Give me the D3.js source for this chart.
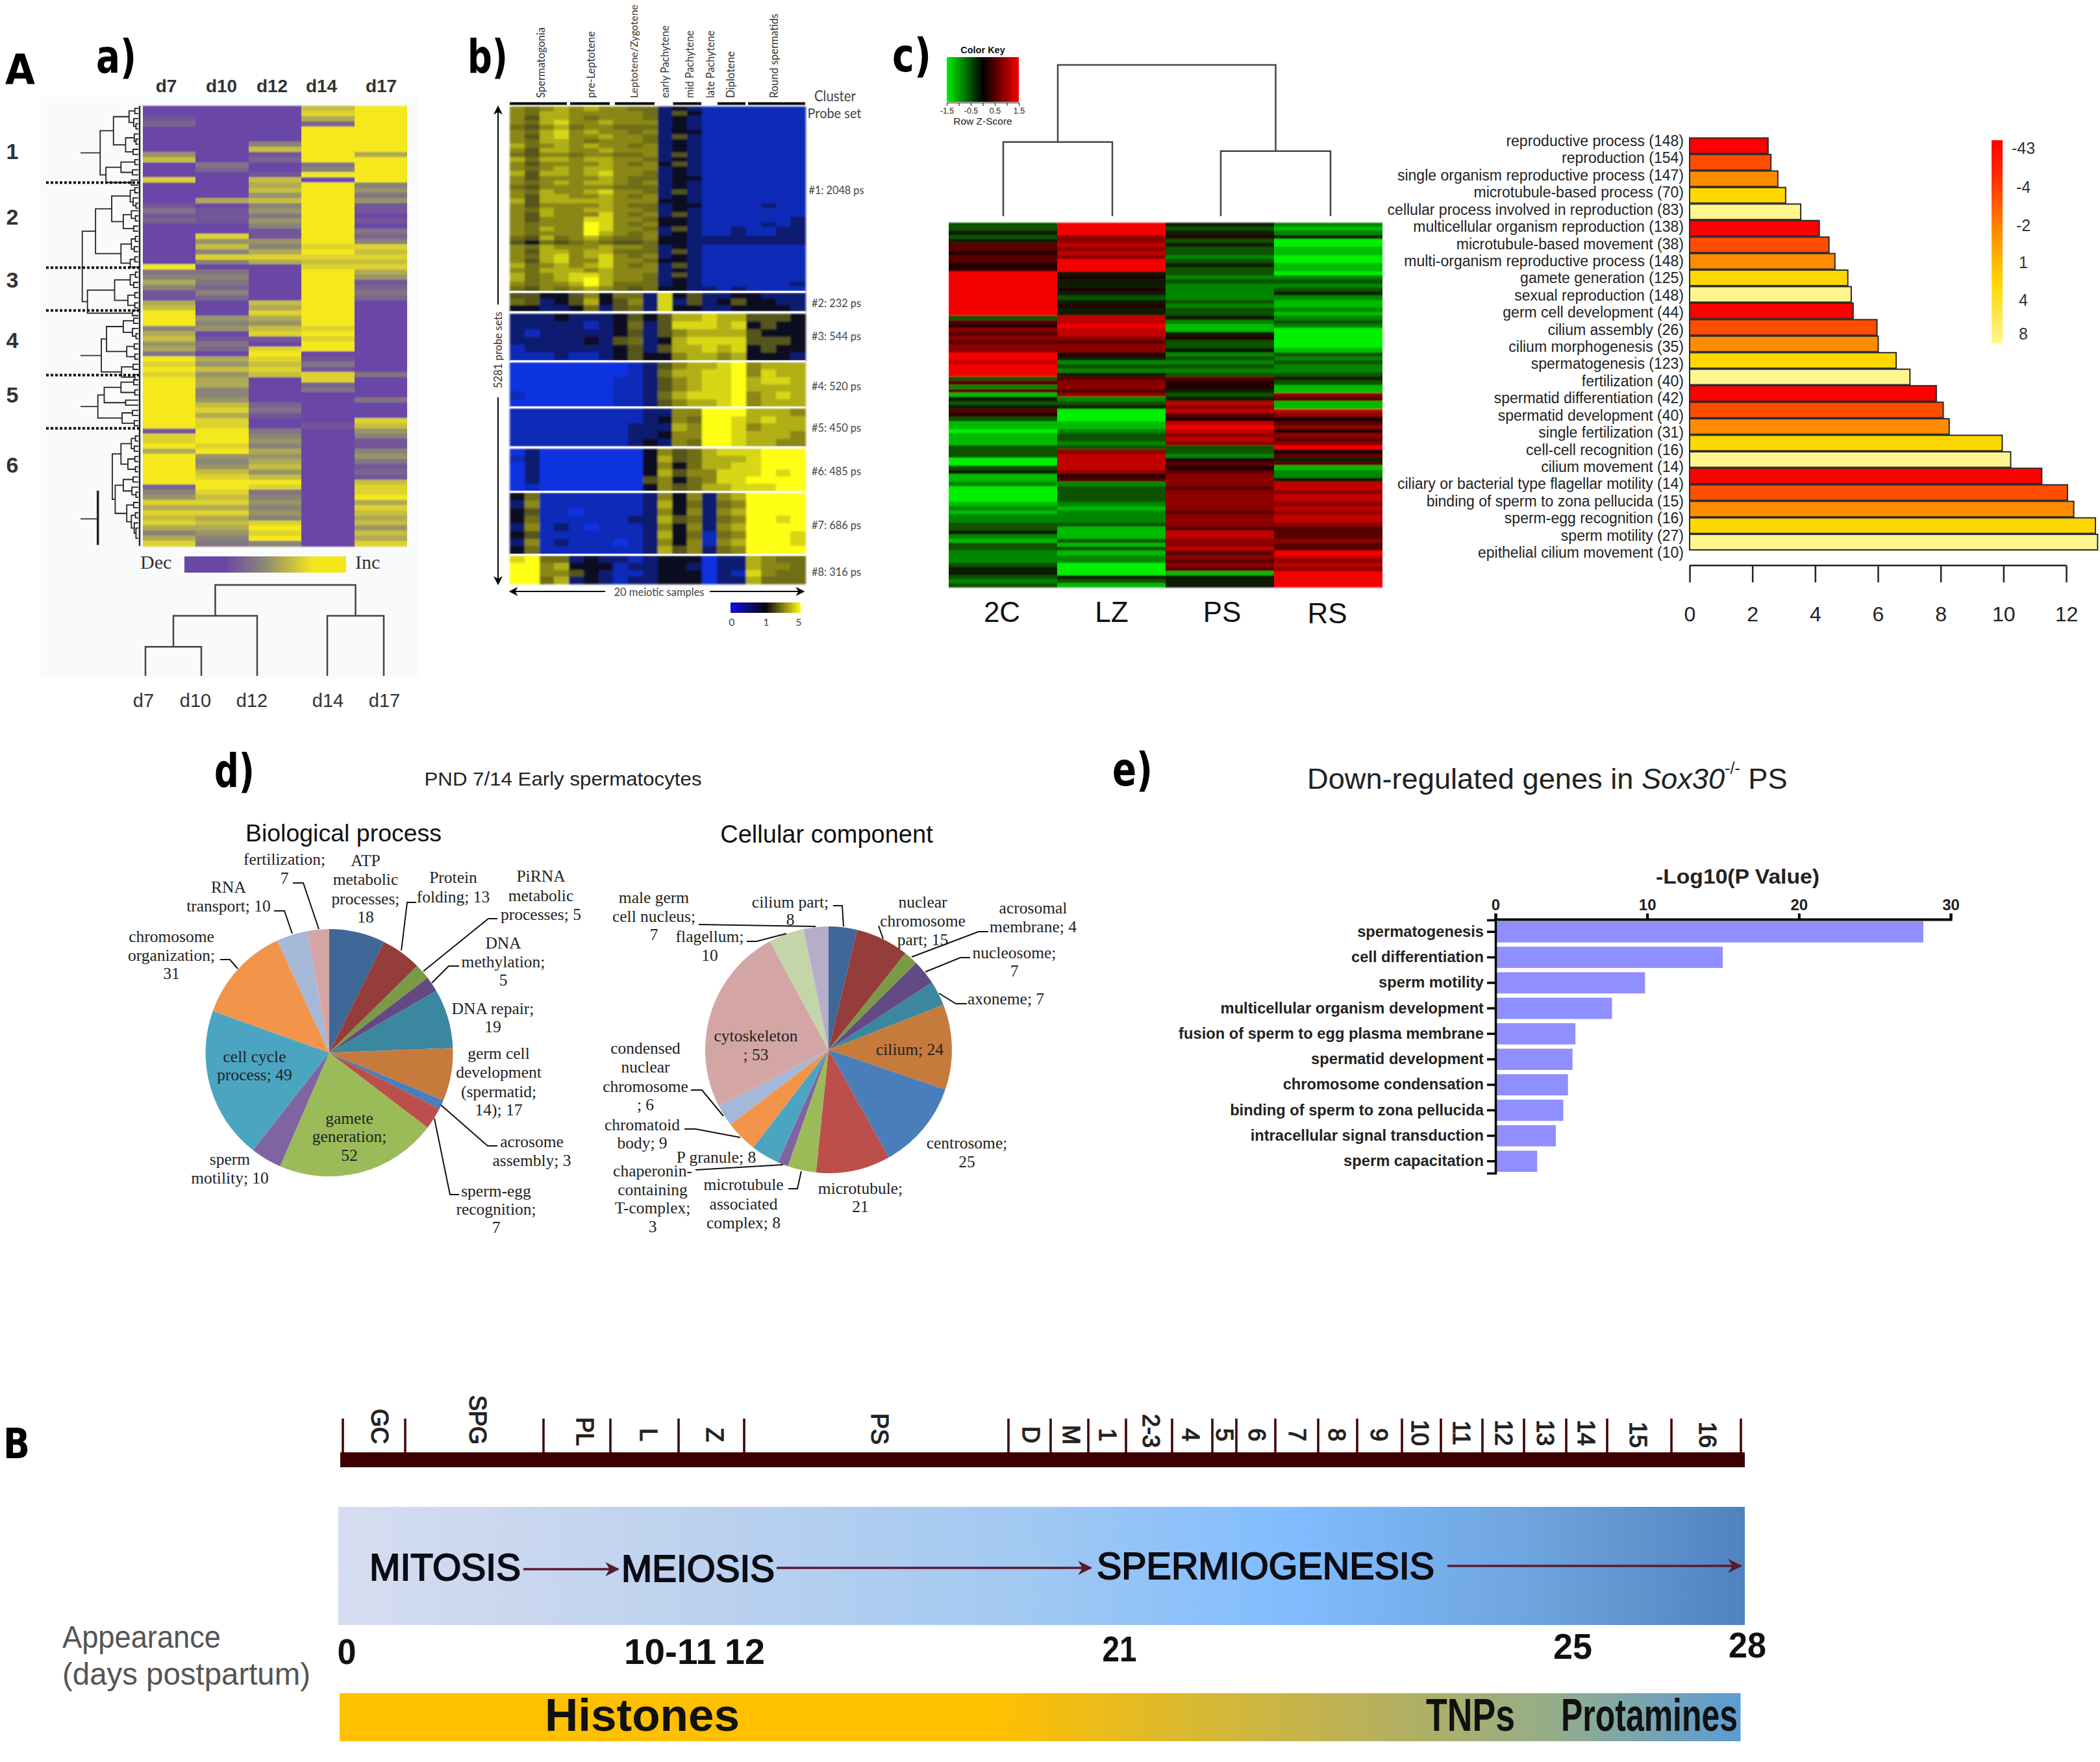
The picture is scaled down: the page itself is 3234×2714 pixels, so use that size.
<!DOCTYPE html>
<html><head><meta charset="utf-8">
<script src="https://cdn.jsdelivr.net/npm/d3@7"></script>
<style>html,body{margin:0;background:#fff}svg{display:block}text{white-space:pre}</style>
</head><body><div id="c"></div>
<script>
// ---------- DATA ----------
// Panel a: five time points, 86 rows, 0 = decreased ... 9 = increased
const aDays=["d7","d10","d12","d14","d17"];
const aD7=[0,0,1,2,0,0,0,0,0,5,7,0,0,0,8,0,0,0,0,1,3,1,2,0,0,0,0,0,0,0,0,9,3,4,6,4,1,1,6,7,9,9,9,4,6,7,5,6,3,9,8,9,8,9,9,9,9,9,9,9,9,9,9,1,8,8,9,6,9,9,9,9,9,9,2,4,5,8,6,8,7,8,6,4,6,8];
const aD10=[0,0,0,0,0,0,0,0,0,0,0,3,2,0,0,0,0,0,6,0,1,1,1,0,0,8,5,7,4,8,4,0,3,4,3,2,4,2,0,0,0,5,4,5,0,1,3,2,0,6,5,7,5,6,6,4,4,5,7,8,6,8,8,9,9,9,8,9,5,4,5,7,8,9,9,8,7,8,6,8,6,7,6,5,4,3];
const aD12=[0,0,0,0,0,0,0,4,7,1,2,0,0,1,7,6,7,5,7,4,5,3,5,4,1,1,5,4,6,8,6,0,0,0,0,0,0,0,7,6,8,6,5,7,8,1,0,8,9,8,7,8,7,0,0,0,0,0,2,3,1,0,0,3,4,5,4,6,5,6,7,5,7,9,8,3,4,5,4,5,4,8,9,8,9,4];
const aD14=[7,8,6,2,9,9,9,9,9,9,9,3,4,9,0,9,9,9,9,9,9,9,9,9,9,9,9,8,9,8,7,8,9,9,9,9,9,9,9,9,9,9,9,8,9,8,9,9,0,1,3,1,8,8,2,3,0,0,0,0,0,0,1,0,0,0,0,0,0,0,0,0,0,0,0,0,0,0,0,0,0,0,0,0,0,0];
const aD17=[9,9,9,9,9,9,9,9,9,6,9,9,9,9,9,4,5,3,5,1,1,0,1,0,3,2,4,8,7,8,7,8,6,5,1,2,3,2,0,0,0,0,0,0,0,0,0,0,0,0,0,0,3,0,0,0,0,3,0,0,0,8,7,5,4,1,1,4,5,3,1,2,1,7,8,8,9,6,8,7,6,7,5,7,6,8];
const aCols=[aD7,aD10,aD12,aD14,aD17];
const aClusterNames=["1","2","3","4","5","6"];
const aClusterBreaks=[15,31.6,40,52.6,63];
// row dendrogram: [distance, child, child]; a leaf is a row number
const aC1=[66,[43,[16,[6,0,1],[8,2,[4,3,4]]],[22,[7,5,[4,6,7]],[9,8,9]]],[56,[30,[6,10,11],[10,12,13]],[12,14,15]]];
const aC2=[74,[46,[14,[6,15.5,16.5],[9,17.5,[4,18.5,19.5]]],[26,[12,20,[5,21,22]],[8,23,24]]],[30,[12,[5,25,26],[7,27,28]],[14,[6,29,30],31]]];
const aC3=[88,[41,[14,[5,32,33],[8,34,35]],[18,[6,36,37],[6,38,39]]],[10,39.5,40.5]];
const aC4=[64,[55,[26,[8,41,42],[10,43,[4,44,45]]],[20,[7,46,47],[6,48,49]]],[29,[9,50,51],[6,52,53]]];
const aC5=[70,[59,[30,[8,53,54],[6,55,56]],[22,57,58]],[28,[10,59,60],[7,61,62]]];
const aC6=[45,[30,[12,[5,64,65],[7,66,67]],[18,[6,68,69],[5,70,71]]],[40,[26,[9,72,73],[11,74,[4,75,76]]],[20,[8,77,78],[12,[5,79,80],[7,81,[4,82,84]]]]]];
const aC23=[97,aC2,aC3];
const aColTree=[1,[.66,[.32,"d7","d10"],"d12"],[.66,"d14","d17"]];

// Panel b: 20 samples, digits 0 = blue ... 3 = black ... 9 = yellow
const bStages=["Spermatogonia","pre-Leptotene","Leptotene/Zygotene","early Pachytene","mid Pachytene","late Pachytene","Diplotene","Round spermatids"];
const bClusterLabels=["#1: 2048 ps","#2: 232 ps","#3: 544 ps","#4: 520 ps","#5: 450 ps","#6: 485 ps","#7: 686 ps","#8: 316 ps"];
const bC1=["6567 676 655 2 32 1 11 1111","6577 666 665 2 43 1 11 1111","6477 656 665 2 32 1 11 1111","6578 667 666 2 32 1 11 1111","5467 566 555 2 32 1 11 1111","6578 676 656 2 33 1 11 1111","6478 667 665 2 42 1 11 1111","6577 656 665 2 32 1 11 1111","7567 676 656 2 32 1 11 1111","6477 667 666 2 32 1 11 1111","5466 566 556 2 42 1 11 1111","7577 677 665 2 32 1 11 1111","6466 667 656 3 42 1 11 1111","6567 677 666 2 32 1 11 1111","7477 678 665 2 32 1 11 1111","6466 667 655 2 33 1 11 1111","6567 677 656 2 32 1 11 1111","5466 666 555 2 32 1 11 1111","6576 678 665 2 42 1 11 1111","6477 667 656 2 32 1 11 1111","7477 777 666 3 32 1 11 1111","6466 667 655 2 33 1 11 1211","6576 677 665 2 32 1 11 1111","6476 668 656 2 42 1 11 1111","6466 688 665 3 32 1 11 1112","6566 698 656 3 32 1 11 1212","6576 698 665 2 42 1 12 1122","6566 697 656 2 32 1 12 1122","5475 676 556 3 32 2 22 2222","4354 565 445 3 32 2 22 2222","6576 667 665 2 32 1 11 1111","6477 677 555 2 42 1 11 1111","6578 678 656 2 32 1 11 1111","6478 668 665 3 32 1 11 1111","7567 678 656 2 42 1 11 1111","6577 767 666 2 32 1 11 1111","7567 887 665 2 42 1 11 1111","7567 897 665 2 32 1 11 1111","6566 797 555 2 32 1 11 1112","5465 676 545 3 32 2 12 1111"];
const bC2=["4433 463 552 8 34 2 23 3222","5423 473 462 8 24 2 34 3322","3322 352 452 8 33 2 23 3332"];
const bC3=["2223 222 343 4 77 8 77 4443","2222 212 352 4 88 8 78 3433","2122 222 342 4 67 7 77 4333","2222 232 452 3 78 8 88 4443","1222 222 342 4 77 8 78 3433","1112 112 343 3 67 7 67 3332"];
const bC4=["0000 000 012 4 67 7 89 6777","0000 000 012 5 77 8 89 6877","0000 000 112 4 67 8 89 7887","0000 000 112 4 67 8 89 7777","1000 000 112 5 78 8 89 6787","0000 000 112 4 67 7 89 6777"];
const bC5=["1111 111 112 2 66 9 99 7776","1111 111 112 3 65 9 98 7877","1111 111 122 2 76 9 98 6777","1111 111 122 3 66 9 98 7776","1111 111 123 2 65 9 98 7766"];
const bC6=["0200 000 003 6 45 7 88 8999","1200 000 003 7 45 7 77 8999","0200 000 003 6 35 7 78 8999","0200 000 003 7 46 6 88 8989","0200 000 004 6 35 6 88 9999","0100 000 003 6 45 7 78 8899"];
const bC7=["3511 111 112 6 36 2 67 9999","2611 111 112 7 35 2 56 9999","3411 011 112 6 36 2 67 9999","3511 111 122 7 45 2 56 9989","2612 101 112 6 36 2 67 9999","3411 111 112 7 35 1 56 9998","2612 111 012 6 36 1 67 9998","3511 111 112 7 46 2 56 9999"];
const bC8=["8955 232 212 3 33 0 22 7655","9967 333 122 3 32 0 22 7665","9966 432 112 3 33 0 21 8655","9957 232 122 3 33 0 22 7555"];
const bClusters=[bC1,bC2,bC3,bC4,bC5,bC6,bC7,bC8];

// Panel c heat map: 0 = green ... 4.5 = black ... 9 = red
const cSamples=["2C","LZ","PS","RS"];
const c2C=[3,3,4,3,4,6,6,5,6,6,5,5,9,9,9,9,9,9,9,9,9,9,9,3,6,5,7,6,7,6,7,7,9,9,8,9,9,9,3,6,2,6,1,4,3,4,6,5,3,1,1,0,1,1,1,3,3,3,0,0,3,4,1,1,2,0,0,0,0,1,2,1,2,2,3,3,4,2,1,3,3,2,2,2,3,4,4,3,2,3];
const cLZ=[9,9,9,7,7,8,7,8,7,9,9,9,4,5,4,4,5,4,3,4,5,4,4,8,8,9,8,8,7,6,7,7,5,4,2,3,2,4,6,7,7,6,7,2,3,4,0,0,0,1,1,2,3,3,2,3,7,8,8,8,8,7,5,6,2,3,3,3,3,2,1,2,2,2,3,1,1,1,3,1,3,1,2,2,0,0,0,4,3,1];
const cPS=[4,3,4,5,3,4,3,3,2,3,4,3,3,2,3,2,2,2,2,3,2,3,3,4,2,1,1,4,5,3,3,4,2,3,2,3,2,3,6,5,5,4,3,4,8,7,8,6,5,8,9,8,7,8,7,3,3,2,5,6,5,6,7,7,7,6,7,7,7,7,7,6,7,7,7,6,8,8,7,7,8,6,7,6,7,6,1,4,4,4];
const cRS=[2,1,2,4,0,0,1,1,0,0,1,1,0,2,3,2,3,4,2,1,1,2,1,2,3,2,0,0,0,0,0,1,3,2,3,2,2,3,4,3,1,1,7,6,1,1,8,7,5,6,7,5,7,6,7,9,5,6,4,6,1,2,2,4,8,8,7,8,8,7,8,7,8,8,7,6,6,6,7,6,6,9,8,7,8,7,9,9,9,9];
const cCols=[c2C,cLZ,cPS,cRS];
const cColTree=[1,[.49,"2C","LZ"],[.43,"PS","RS"]];

// Panel c bars
const goTerms=["reproductive process (148)","reproduction (154)","single organism reproductive process (147)","microtubule-based process (70)","cellular process involved in reproduction (83)","multicellular organism reproduction (138)","microtubule-based movement (38)","multi-organism reproductive process (148)","gamete generation (125)","sexual reproduction (148)","germ cell development (44)","cilium assembly (26)","cilium morphogenesis (35)","spermatogenesis (123)","fertilization (40)","spermatid differentiation (42)","spermatid development (40)","single fertilization (31)","cell-cell recognition (16)","cilium movement (14)","ciliary or bacterial type flagellar motility (14)","binding of sperm to zona pellucida (15)","sperm-egg recognition (16)","sperm motility (27)","epithelial cilium movement (10)"];
const goValues=[2.5,2.59,2.81,3.06,3.54,4.13,4.44,4.63,5.04,5.15,5.21,5.97,6.01,6.58,7.02,7.86,8.08,8.27,9.96,10.23,11.22,12.04,12.24,12.93,13.0];
const goColorIndex=[0,1,2,3,4,0,1,2,3,4,0,1,2,3,4,0,1,2,3,4,0,1,2,3,4];
const goPalette=["#ff0000","#ff4d00","#ff8c00","#ffd700","#fff68f"];
const goLegend=["-43","-4","-2","1","4","8"];

// Panel d pies
const bpNames=["ATP metabolic processes","Protein folding","PiRNA metabolic processes","DNA methylation","DNA repair","germ cell development","acrosome assembly","sperm-egg recognition","gamete generation","sperm motility","cell cycle process","chromosome organization","RNA transport","fertilization"];
const bpValues=[18,13,5,5,19,17,3,7,52,10,49,31,10,7];
const ccNames=["cilium part","nuclear chromosome part","acrosomal membrane","nucleosome","axoneme","cilium","centrosome","microtubule","microtubule associated complex","chaperonin-containing T-complex","P granule","chromatoid body","condensed nuclear chromosome","cytoskeleton","flagellum","male germ cell nucleus"];
const ccValues=[8,15,4,7,7,24,25,21,8,3,8,9,6,53,10,7];
const pieColors=["#3f6797","#953d3a","#7a9a45","#634a84","#3b87a0","#c67a3b","#4a7eba","#bc4f4c","#9bbb59","#8064a2","#4ba5c1","#f2954a","#a5b8d8","#d3a6a5","#c3d5a9","#b5aecb"];

// Panel e
const eTerms=["spermatogenesis","cell differentiation","sperm motility","multicellular organism development","fusion of sperm to egg plasma membrane","spermatid development","chromosome condensation","binding of sperm to zona pellucida","intracellular signal transduction","sperm capacitation"];
const eValues=[28.2,14.98,9.86,7.68,5.27,5.08,4.78,4.47,3.98,2.75];

// Panel B
const stageNames=["GC","SPG","PL","L","Z","PS","D","M","1","2-3","4","5","6","7","8","9","10","11","12","13","14","15","16"];

// ---------- LAYOUT ----------
const W=3234,H=2714,SANS="'Liberation Sans',Arial,sans-serif",SERIF="'Liberation Serif','Times New Roman',serif",LATO="Lato,'Open Sans',sans-serif",HEAVY="'DejaVu Sans',sans-serif";
const svg=d3.select("#c").append("svg").attr("width",W).attr("height",H).attr("viewBox",`0 0 ${W} ${H}`);
svg.append("rect").attr("width",W).attr("height",H).attr("fill","#fff");
const defs=svg.append("defs");
function soft(id,sx,sy){defs.append("filter").attr("id",id).attr("x","-2%").attr("y","-2%").attr("width","104%").attr("height","104%")
  .append("feGaussianBlur").attr("stdDeviation",`${sx} ${sy}`);return `url(#${id})`;}
const softA=soft("sa",.6,1.3),softB=soft("sb",1.6,1.4),softC=soft("sc",.5,1.1);
function grad(id,stops,vertical){const g=defs.append("linearGradient").attr("id",id).attr("x1",0).attr("y1",0).attr("x2",vertical?0:1).attr("y2",vertical?1:0);
  stops.forEach(s=>g.append("stop").attr("offset",s[0]).attr("stop-color",s[1]));return `url(#${id})`;}
function t(g,x,y,s,o={}){const e=g.append("text").attr("x",x).attr("y",y).text(s).attr("dominant-baseline",o.base||"central")
  .attr("text-anchor",o.anchor||"middle").attr("font-family",o.font||SANS).attr("font-size",o.size||24).attr("fill",o.fill||"#111");
  if(o.weight)e.attr("font-weight",o.weight);if(o.rot!=null)e.attr("transform",`rotate(${o.rot} ${x} ${y})`);
  if(o.len)e.attr("textLength",o.len).attr("lengthAdjust","spacingAndGlyphs");
  if(o.stroke)e.attr("stroke",o.fill||"#111").attr("stroke-width",o.stroke);return e;}
function poly(g,pts,w,c){g.append("path").attr("d",d3.line()(pts)).attr("fill","none").attr("stroke",c||"#111").attr("stroke-width",w);}

// Panel letters
[["A",8,130,64,46],["B",5,2246,64,41]].forEach(d=>t(svg,d[1],d[2],d[0],{anchor:"start",base:"auto",size:d[3],weight:"bold",font:HEAVY,len:d[4],fill:"#000"}));
[["a)",148,112,62],["b)",720,112,62],["c)",1374,110,60],["d)",330,1212,62],["e)",1713,1210,62]].forEach(d=>t(svg,d[1],d[2],d[0],{anchor:"start",base:"auto",size:72,weight:"bold",font:HEAVY,len:d[3],fill:"#000"}));

// ---------- Panel a ----------
const ga=svg.append("g");
ga.append("rect").attr("x",62).attr("y",148).attr("width",583).attr("height",897).attr("fill","#f9fafa");
const ax=d3.scaleBand().domain(aDays).range([220,627]);
const ay=d3.scaleLinear().domain([0,86]).range([163,841]);
const acol=d3.scaleLinear().domain([0,4.5,9]).range(["#6b47a6","#8d8a72","#f5e81a"]);
ga.append("g").attr("filter",softA).selectAll("g").data(aCols).join("g").each(function(col,i){
  d3.select(this).selectAll("rect").data(col).join("rect").attr("shape-rendering","crispEdges").attr("x",ax(aDays[i])).attr("width",ax.bandwidth())
   .attr("y",(d,r)=>ay(r)).attr("height",ay(1)-ay(0)+.5).attr("fill",d=>acol(d));});
aDays.forEach((d,i)=>t(ga,[256,341,419,495,587][i],132,d,{size:28,weight:"bold",fill:"#333"}));
aClusterNames.forEach((d,i)=>t(ga,19,[233,334,431,524,608,716][i],d,{size:34,weight:"bold",fill:"#333"}));
const ad=d3.scaleLinear().domain([0,100]).range([213,124]);
function rowDendro(g,n,w){ // returns row position
  if(!Array.isArray(n))return {y:ay(n+.5),x:ad(0)};
  const a=rowDendro(g,n[1],w),b=rowDendro(g,n[2],w),x=ad(n[0]);
  poly(g,[[a.x,a.y],[x,a.y],[x,b.y],[b.x,b.y]],w,"#222");
  return {y:(a.y+b.y)/2,x};
}
const gd=ga.append("g");
[aC1,aC23,aC4,aC5,aC6].forEach(tr=>{const p=rowDendro(gd,tr,1.8);
  if(tr===aC1||tr===aC4||tr===aC5)poly(gd,[[ad(100),p.y],[p.x,p.y]],1.8,"#333");});
poly(gd,[[ad(100),ay(80.7)],[ad(70),ay(80.7)]],1.8,"#333");
poly(gd,[[ad(70),ay(75.2)],[ad(70),ay(85.8)]],3.5,"#222");
poly(gd,[[215,163],[215,841]],2.5,"#222");
aClusterBreaks.forEach(b=>gd.append("line").attr("x1",71).attr("x2",214).attr("y1",ay(b)).attr("y2",ay(b)).attr("stroke","#111").attr("stroke-width",4).attr("stroke-dasharray","4 3"));
const aBar=grad("ga",[[0,"#6b47a6"],[.25,"#6b47a6"],[.5,"#8d8a72"],[.8,"#f5e81a"],[1,"#f5e81a"]]);
ga.append("rect").attr("x",284).attr("y",857).attr("width",249).attr("height",25).attr("fill",aBar);
t(ga,216,865,"Dec",{anchor:"start",font:SERIF,size:30,fill:"#333"});
t(ga,547,865,"Inc",{anchor:"start",font:SERIF,size:30,fill:"#333"});
function colDendro(g,n,xf,yf,w,c){if(!Array.isArray(n))return {x:xf(n),y:yf(0)};
  const a=colDendro(g,n[1],xf,yf,w,c),b=colDendro(g,n[2],xf,yf,w,c),y=yf(n[0]);
  poly(g,[[a.x,a.y],[a.x,y],[b.x,y],[b.x,b.y]],w,c);return {x:(a.x+b.x)/2,y};}
const aLeaf=d3.scaleOrdinal().domain(aDays).range([224,310,396,504,591]);
colDendro(ga,aColTree,aLeaf,d3.scaleLinear().domain([0,1]).range([1041,901]),2.5,"#444");
aDays.forEach((d,i)=>t(ga,[221,301,388,505,592][i],1079,d,{size:29,fill:"#333"}));

// ---------- Panel b ----------
const gb=svg.append("g");
const bx=d3.scaleBand().domain(d3.range(20)).range([785,1240]);
const bcol=d3.scaleLinear().domain([0,1,2,3,4,6,9]).range(["#1030e0","#102ab8","#0c1a70","#0c1022","#55551a","#8a8715","#ffff14"]);
const bExt=[[164,448],[451,479],[482.5,555],[558,626],[629,687.5],[690.6,756],[759,853],[856,899]];
const bHeat=gb.append("g").attr("filter",softB);
const bLabelW=[85,76,76,76,76,76,76,76];
bClusters.forEach((rows,ci)=>{
  const y=d3.scaleBand().domain(d3.range(rows.length)).range(bExt[ci]);
  rows.forEach((r,ri)=>{const vals=r.replace(/ /g,"").split("").map(Number);
    bHeat.append("g").selectAll("rect").data(vals).join("rect").attr("shape-rendering","crispEdges").attr("x",(d,i)=>bx(i)).attr("width",bx.bandwidth()+.5)
     .attr("y",y(ri)).attr("height",y.bandwidth()+.5).attr("fill",d=>bcol(d));});
  t(gb,ci==0?1245.5:1250,[292.5,466,517,594,658,725,808,880][ci],bClusterLabels[ci],{anchor:"start",font:LATO,size:17,fill:"#444",len:bLabelW[ci]});
});
// white separators between the clusters
bExt.slice(1).forEach(e=>gb.append("rect").attr("x",785).attr("width",455).attr("y",e[0]-3).attr("height",3).attr("fill","#fff"));
const bStageX=[832,909,976,1023,1061,1093,1124,1192],bStageLen=[109,103,144,112,104,104,72,130],bStageSize=[18,18,15.5,18,18,18,18,16.5];
bStages.forEach((s,i)=>t(gb,bStageX[i],151,s,{anchor:"start",font:LATO,size:bStageSize[i],rot:-90,fill:"#333",len:bStageLen[i]}));
[[785,873],[878,939],[947,1008],[1036.5,1080],[1105,1148],[1152,1240]].forEach(s=>poly(gb,[[s[0],159.5],[s[1],159.5]],4,"#000"));
t(gb,1286,147,"Cluster",{font:LATO,size:23,fill:"#444",len:64});
t(gb,1285,173,"Probe set",{font:LATO,size:22,fill:"#444",len:83});
function arrowHead(id,c,s){defs.append("marker").attr("id",id).attr("viewBox","0 0 10 10").attr("refX",9).attr("refY",5).attr("markerWidth",s).attr("markerHeight",s).attr("orient","auto-start-reverse").attr("markerUnits","userSpaceOnUse")
  .append("path").attr("d","M0,0L10,5L0,10L3,5Z").attr("fill",c);return `url(#${id})`;}
const mk=arrowHead("ak","#000",14);
function arrow(g,x1,y1,x2,y2,w,c,m){return g.append("line").attr("x1",x1).attr("y1",y1).attr("x2",x2).attr("y2",y2).attr("stroke",c).attr("stroke-width",w).attr("marker-end",m);}
arrow(gb,767,469,767,164,2,"#000",mk);arrow(gb,767,612,767,900,2,"#000",mk);
t(gb,766,539,"5281 probe sets",{font:LATO,size:18,rot:-90,fill:"#333",len:118});
arrow(gb,932,911,785,911,2,"#000",mk);arrow(gb,1093,911,1238,911,2,"#000",mk);
t(gb,1015,911,"20 meiotic samples",{font:LATO,size:18,fill:"#444",len:139});
gb.append("rect").attr("x",1125).attr("y",928).attr("width",108).attr("height",16).attr("fill",grad("gb",[[0,"#1010e0"],[.5,"#050510"],[1,"#ffff14"]]));
[["0",1127],["1",1180],["5",1230]].forEach(d=>t(gb,d[1],957,d[0],{font:LATO,size:16,fill:"#444"}));

// ---------- Panel c heat ----------
const gc=svg.append("g");
const cx=d3.scaleBand().domain(cSamples).range([1461,2129]);
const cy=d3.scaleLinear().domain([0,90]).range([343,904.5]);
const ccol=d3.scaleLinear().domain([0,4.5,9]).range(["#00f000","#0a0300","#f50000"]);
gc.append("g").attr("filter",softC).selectAll("g").data(cCols).join("g").each(function(col,i){
  d3.select(this).selectAll("rect").data(col).join("rect").attr("shape-rendering","crispEdges").attr("x",cx(cSamples[i])).attr("width",cx.bandwidth())
   .attr("y",(d,r)=>cy(r)).attr("height",cy(1)-cy(0)+.5).attr("fill",d=>ccol(d));});
cSamples.forEach((s,i)=>t(gc,[1543,1712,1882,2044][i],[942,942,942,944][i],s,{size:44,fill:"#111"}));
const cLeaf=d3.scaleOrdinal().domain(cSamples).range([1545,1713,1880,2049]);
colDendro(gc,cColTree,cLeaf,d3.scaleLinear().domain([0,1]).range([333,100]),2.5,"#444");
const keyX=d3.scaleLinear().domain([-1.5,1.5]).range([1458,1569]);
gc.append("rect").attr("x",1458).attr("y",88).attr("width",111).attr("height",69).attr("fill",grad("gc",[[0,"#00f000"],[.5,"#000"],[1,"#f50000"]]));
t(gc,1513.5,77,"Color Key",{size:14.5,weight:"bold"});
const keyAxis=d3.axisBottom(keyX).tickValues([-1.5,-1,-.5,0,.5,1,1.5]).tickSize(5).tickPadding(3).tickFormat(d=>[-1.5,-.5,.5,1.5].includes(d)?d.toFixed(1):"");
const ka=gc.append("g").attr("transform","translate(0,158)").call(keyAxis);
ka.select(".domain").attr("stroke","#111");ka.selectAll("text").attr("font-size",12.5).attr("font-family",SANS).attr("fill","#222");
t(gc,1513.5,186,"Row Z-Score",{size:15.5,fill:"#222"});

// ---------- Panel c bars ----------
const gg=svg.append("g");
const gx=d3.scaleLinear().domain([0,12]).range([2602,3182]);
const gyB=d3.scaleBand().domain(goTerms).range([212.5,847]).paddingInner(.06);
const gyL=d3.scalePoint().domain(goTerms).range([217,851]);
gg.selectAll("rect").data(goTerms).join("rect").attr("x",gx(0)).attr("y",d=>gyB(d)).attr("height",gyB.bandwidth())
 .attr("width",(d,i)=>gx(goValues[i])-gx(0)).attr("fill",(d,i)=>goPalette[goColorIndex[i]]).attr("stroke","#2a2a2a").attr("stroke-width",2);
gg.selectAll("text.term").data(goTerms).join("text").attr("class","term").attr("x",2593).attr("y",d=>gyL(d)).text(d=>d)
 .attr("text-anchor","end").attr("dominant-baseline","central").attr("font-family",SANS).attr("font-size",23).attr("fill","#222");
const gAxis=d3.axisBottom(gx).tickValues(d3.range(0,13,2)).tickSize(26).tickPadding(37);
const gaX=gg.append("g").attr("transform","translate(0,871)").call(gAxis);
gaX.selectAll("line,.domain").attr("stroke","#222").attr("stroke-width",2.5);
gaX.select(".domain").attr("d",`M${gx(0)},0H${gx(12)}`);
gaX.selectAll("text").attr("font-size",32).attr("font-family",SANS).attr("fill","#222");
gg.append("rect").attr("x",3067).attr("y",216).attr("width",17).attr("height",313)
 .attr("fill",grad("gl",[[0,"#ff0000"],[.2,"#ff3300"],[.45,"#ff8c00"],[.7,"#ffd700"],[1,"#fff68f"]],true));
goLegend.forEach((s,i)=>t(gg,3116,[228,288,347,404,462,514][i],s,{size:25,fill:"#333"}));

// ---------- Panel d ----------
const gp=svg.append("g");
t(gp,867,1200,"PND 7/14 Early spermatocytes",{size:29,fill:"#222",len:427});
function pieChart(values,cx0,cy0,r){
  const arc=d3.arc().innerRadius(0).outerRadius(r);
  gp.append("g").attr("transform",`translate(${cx0},${cy0})`).selectAll("path").data(d3.pie().sort(null)(values)).join("path").attr("d",arc).attr("fill",(d,i)=>pieColors[i]);
}
pieChart(bpValues,507,1621.6,190.5);pieChart(ccValues,1276,1617,190);
t(gp,529,1283,"Biological process",{size:37.5,fill:"#111"});
t(gp,1273,1285,"Cellular component",{size:38,fill:"#111"});
const bpLabels=[
 [438,["fertilization;","7"],[1323,1352]],[563,["ATP","metabolic","processes;","18"],[1325,1354,1384,1412]],[698,["Protein","folding; 13"],[1351,1381]],
 [833,["PiRNA","metabolic","processes; 5"],[1349,1379,1408]],[352,["RNA","transport; 10"],[1366,1395]],[264,["chromosome","organization;","31"],[1442,1471,1499]],
 [775,["DNA","methylation;","5"],[1452,1481,1509]],[759,["DNA repair;","19"],[1553,1581]],[768,["germ cell","development","(spermatid;","14); 17"],[1622,1651,1681,1709]],
 [392,["cell cycle","process; 49"],[1627,1655]],[538,["gamete","generation;","52"],[1722,1750,1779]],[354,["sperm","motility; 10"],[1785,1814]],
 [819,["acrosome","assembly; 3"],[1758,1787]],[764,["sperm-egg","recognition;","7"],[1834,1862,1890]]];
const ccLabels=[
 [1007,["male germ","cell nucleus;","7"],[1382,1411,1439]],[1217,["cilium part;","8"],[1389,1416]],[1093,["flagellum;","10"],[1442.5,1471]],
 [1421,["nuclear","chromosome","part; 15"],[1389,1418,1447]],[1591,["acrosomal","membrane; 4"],[1398,1427]],[1562,["nucleosome;","7"],[1467,1495]],
 [1549,["axoneme; 7"],[1538]],[1401,["cilium; 24"],[1616]],[1164,["cytoskeleton","; 53"],[1595,1624]],[994,["condensed","nuclear","chromosome","; 6"],[1614,1643,1673,1701]],
 [989,["chromatoid","body; 9"],[1732,1760]],[1103,["P granule; 8"],[1782]],[1005,["chaperonin-","containing","T-complex;","3"],[1803,1832,1860,1889]],
 [1145,["microtubule","associated","complex; 8"],[1824,1854,1883]],[1325,["microtubule;","21"],[1830,1858]],[1489,["centrosome;","25"],[1760,1789]]];
[...bpLabels,...ccLabels].forEach(l=>l[1].forEach((s,i)=>t(gp,l[0],l[2][i],s,{font:SERIF,size:25.5,fill:"#222"})));
const leaders=[
 [[451,1360],[467,1360],[491,1431]],[[422,1403],[438,1403],[450,1438]],[[339,1478],[354,1478],[366,1492]],[[641,1390],[627,1390],[618,1464]],
 [[766,1415],[752,1415],[652,1496]],[[707,1488],[691,1488],[665,1514]],[[766,1765],[751,1765],[679,1702]],[[707,1840],[693,1840],[669,1723]],
 [[1076,1424],[1256,1427]],[[1283,1395],[1297,1395],[1299,1427]],[[1150,1450],[1165,1450],[1211,1438]],[[1353,1426],[1360,1446]],
 [[1522,1435],[1507,1435],[1404,1474]],[[1494,1475],[1479,1475],[1425,1497]],[[1489,1546],[1472,1546],[1446,1530]],[[1064,1679],[1081,1679],[1114,1719]],
 [[1054,1739],[1071,1739],[1140,1752]],[[1071,1802],[1206,1794]],[[1214,1831],[1228,1831],[1234,1804]]];
leaders.forEach(p=>poly(gp,p,2,"#111"));

// ---------- Panel e ----------
const ge=svg.append("g");
const eTitle=ge.append("text").attr("x",2013).attr("y",1199).attr("dominant-baseline","central").attr("font-family",SANS).attr("font-size",45.2).attr("fill","#222");
eTitle.append("tspan").text("Down-regulated genes in ");
eTitle.append("tspan").text("Sox30").attr("font-style","italic");
eTitle.append("tspan").text("-/-").attr("font-size",25).attr("dy",-16);
eTitle.append("tspan").text(" PS").attr("dy",16);
t(ge,2676,1350,"-Log10(P Value)",{size:31,weight:"bold",fill:"#222",len:252});
const ex=d3.scaleLinear().domain([0,30]).range([2303,3004]);
const ey=d3.scaleBand().domain(eTerms).range([1417,1807]).paddingInner(.167).paddingOuter(.05);
ge.selectAll("rect").data(eTerms).join("rect").attr("x",ex(0)).attr("y",d=>ey(d)).attr("height",ey.bandwidth()).attr("width",(d,i)=>ex(eValues[i])-ex(0)).attr("fill","#8f8fff");
const eTop=ge.append("g").attr("transform","translate(0,1416)").call(d3.axisTop(ex).tickValues([0,10,20,30]).tickSize(9).tickPadding(5));
eTop.selectAll("line,.domain").attr("stroke","#000").attr("stroke-width",4);
eTop.selectAll("text").attr("font-size",24).attr("font-weight","bold").attr("font-family",SANS).attr("fill","#222");
const eLeft=ge.append("g").attr("transform","translate(2303,0)").call(d3.axisLeft(ey).tickSize(13).tickPadding(5));
eLeft.selectAll("line,.domain").attr("stroke","#000").attr("stroke-width",3.5);
eLeft.selectAll("text").attr("font-size",23.7).attr("font-weight","bold").attr("font-family",SANS).attr("fill","#222");

// ---------- Panel B ----------
const gt=svg.append("g");
const tlTicks=[528,624,837,940,1045,1146,1553,1618,1676,1734,1805,1867,1904,1964,2030,2090,2159,2219,2283,2347,2412,2475,2574,2681];
gt.append("rect").attr("x",524).attr("y",2237).attr("width",2163).attr("height",23).attr("fill","#3d0000");
tlTicks.forEach(x=>poly(gt,[[x,2185],[x,2240]],3.5,"#3d0000"));
const stX=[584,735,900,998,1100,1354,1587,1649,1705,1772,1833,1885,1935,1997,2058,2123,2186,2250,2315,2379,2442,2522,2629];
const stY=[2197,2187,2205,2210,2210,2201,2210,2210,2210,2204,2210,2210,2210,2210,2210,2210,2207,2207,2207,2207,2207,2210,2210];
stageNames.forEach((s,i)=>t(gt,stX[i],stY[i],s,{size:36,rot:90,fill:"#222",stroke:1.3}));
gt.append("rect").attr("x",521).attr("y",2321).attr("width",2166).attr("height",182)
 .attr("fill",grad("gbl",[[0,"#d6ddf0"],[.25,"#bdd2ee"],[.5,"#a0c8f2"],[.68,"#80bcff"],[.85,"#6ea4de"],[1,"#4f83bf"]]));
[["MITOSIS",569,2413,233],["MEIOSIS",957,2415,236],["SPERMIOGENESIS",1689,2411,520]].forEach(d=>t(gt,d[1],d[2],d[0],{anchor:"start",size:58,fill:"#0c0c14",stroke:2,len:d[3]}));
const mk2=arrowHead("am","#5a1a30",22);
arrow(gt,806,2417,952,2417,3.5,"#5a1a30",mk2);arrow(gt,1196,2415,1680,2415,3.5,"#5a1a30",mk2);arrow(gt,2229,2412,2681,2412,3.5,"#5a1a30",mk2);
[["0",534,2543,29],["10-11",1032,2543,142],["12",1147,2543,62],["21",1724,2539,53],["25",2422,2535,60],["28",2691,2533,58]].forEach(d=>t(gt,d[1],d[2],d[0],{size:56,weight:"bold",fill:"#111",len:d[3]}));
t(gt,96,2521,"Appearance",{anchor:"start",size:48,fill:"#555",len:244});
t(gt,96,2578,"(days postpartum)",{anchor:"start",size:48,fill:"#555",len:382});
gt.append("rect").attr("x",523).attr("y",2608).attr("width",2157.5).attr("height",74)
 .attr("fill",grad("ghi",[[0,"#ffc000"],[.47,"#ffc000"],[.6,"#dcb92f"],[.75,"#b5b05e"],[.87,"#93ad8c"],[1,"#5b9bd5"]]));
[["Histones",839,300],["TNPs",2196,137],["Protamines",2404,272]].forEach(d=>t(gt,d[1],2642,d[0],{anchor:"start",size:70,weight:"bold",fill:"#111",len:d[2]}));
</script></body></html>
